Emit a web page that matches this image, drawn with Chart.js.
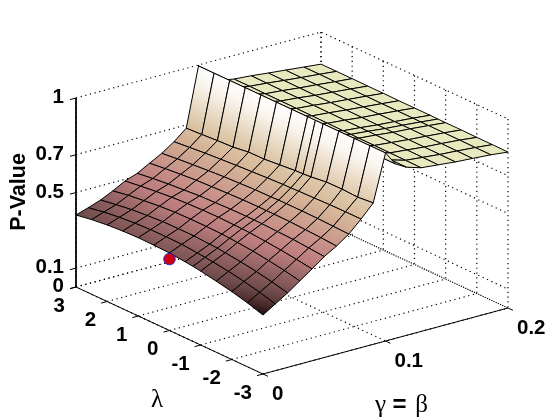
<!DOCTYPE html>
<html>
<head>
<meta charset="utf-8">
<style>
  html, body { margin: 0; padding: 0; background: #fff; }
  canvas { display: block; }
</style>
<script src="https://cdn.jsdelivr.net/npm/chart.js@4/dist/chart.umd.js"></script>
</head>
<body>
<canvas id="chart" width="560" height="420"></canvas>
<script>
const lambdaValues = [3, 2.5, 2, 1.5, 1, 0.5, 0, -0.5, -0.75, -1, -1.5, -2, -2.5, -3];
const gammaValues = [0, 0.01, 0.02, 0.03, 0.04, 0.05, 0.06, 0.07, 0.08, 0.09, 0.1, 0.108, 0.117, 0.129, 0.143, 0.157, 0.171, 0.186, 0.2];

// one row per gamma, one column per lambda
const pValues = [
  [0.381, 0.395, 0.405, 0.411, 0.414, 0.413, 0.41, 0.402, 0.397, 0.391, 0.376, 0.359, 0.338, 0.312],
  [0.402, 0.417, 0.428, 0.435, 0.439, 0.44, 0.438, 0.431, 0.427, 0.422, 0.41, 0.395, 0.376, 0.353],
  [0.425, 0.439, 0.451, 0.458, 0.464, 0.465, 0.465, 0.46, 0.458, 0.453, 0.443, 0.43, 0.414, 0.394],
  [0.456, 0.471, 0.481, 0.49, 0.496, 0.498, 0.498, 0.496, 0.493, 0.49, 0.482, 0.471, 0.457, 0.44],
  [0.491, 0.502, 0.512, 0.52, 0.525, 0.528, 0.529, 0.527, 0.526, 0.524, 0.517, 0.509, 0.498, 0.486],
  [0.514, 0.525, 0.534, 0.541, 0.548, 0.551, 0.554, 0.555, 0.555, 0.554, 0.551, 0.548, 0.541, 0.534],
  [0.55, 0.56, 0.568, 0.575, 0.579, 0.583, 0.586, 0.587, 0.587, 0.587, 0.586, 0.582, 0.578, 0.572],
  [0.585, 0.594, 0.601, 0.608, 0.614, 0.618, 0.622, 0.623, 0.625, 0.625, 0.625, 0.624, 0.621, 0.618],
  [0.629, 0.637, 0.645, 0.651, 0.657, 0.662, 0.667, 0.671, 0.672, 0.674, 0.676, 0.679, 0.68, 0.68],
  [0.683, 0.688, 0.694, 0.698, 0.71, 0.711, 0.719, 0.727, 0.729, 0.732, 0.743, 0.744, 0.74, 0.748],
  [0.995, 0.995, 0.995, 0.995, 0.995, 0.995, 0.995, 0.995, 0.995, 0.995, 0.995, 0.995, 0.995, 0.995],
  [0.93, 0.93, 0.93, 0.93, 0.93, 0.93, 0.93, 0.928, 0.928, 0.927, 0.926, 0.925, 0.924, 0.923],
  [0.89, 0.89, 0.89, 0.89, 0.89, 0.89, 0.89, 0.89, 0.89, 0.89, 0.89, 0.89, 0.89, 0.89],
  [0.875, 0.875, 0.874, 0.874, 0.873, 0.872, 0.871, 0.87, 0.87, 0.869, 0.869, 0.868, 0.867, 0.866],
  [0.868, 0.867, 0.866, 0.866, 0.865, 0.864, 0.863, 0.862, 0.862, 0.861, 0.86, 0.859, 0.858, 0.857],
  [0.858, 0.857, 0.856, 0.855, 0.855, 0.854, 0.853, 0.852, 0.852, 0.851, 0.851, 0.85, 0.849, 0.848],
  [0.849, 0.848, 0.848, 0.847, 0.847, 0.846, 0.846, 0.845, 0.845, 0.845, 0.844, 0.844, 0.843, 0.842],
  [0.839, 0.839, 0.838, 0.838, 0.838, 0.837, 0.837, 0.837, 0.836, 0.836, 0.836, 0.836, 0.835, 0.835],
  [0.83, 0.83, 0.83, 0.829, 0.829, 0.828, 0.828, 0.828, 0.827, 0.827, 0.827, 0.826, 0.826, 0.825],
];

const lambdaTicks = [3, 2, 1, 0, -1, -2, -3];
const gammaTicks = [0, 0.1, 0.2];
const pTicks = [0, 0.1, 0.5, 0.7, 1];
const markedPoint = { lambda: 0, gamma: 0, p: 0.378 };

// colour of the surface against p-value, the plateau behind the ridge is flat yellow
const plateauColor = "rgb(233,233,192)";
const colorStops = [
  [0.31, 30, 8, 8],
  [0.35, 80, 48, 48],
  [0.38, 108, 72, 72],
  [0.45, 152, 102, 102],
  [0.5, 186, 124, 124],
  [0.55, 198, 140, 134],
  [0.6, 204, 160, 142],
  [0.68, 216, 188, 156],
  [0.75, 224, 204, 176],
  [0.85, 240, 228, 212],
  [0.92, 250, 246, 240],
  [1, 255, 255, 255],
];

// orthographic view of the box
function project(lambda, gamma, p) {
  const a = (3 - lambda) / 6;
  const b = gamma / 0.2;
  return { x: 76 + a * 187 + b * 245, y: 287 + a * 87 - b * 66 - p * 189 };
}

function colorAt(p) {
  if (p <= colorStops[0][0]) {
    return `rgb(${colorStops[0].slice(1).join(",")})`;
  }
  for (let i = 1; i < colorStops.length; i++) {
    const [p1, r1, g1, b1] = colorStops[i];
    if (p <= p1) {
      const [p0, r0, g0, b0] = colorStops[i - 1];
      const t = (p - p0) / (p1 - p0);
      return `rgb(${Math.round(r0 + (r1 - r0) * t)},${Math.round(g0 + (g1 - g0) * t)},${Math.round(b0 + (b1 - b0) * t)})`;
    }
  }
  return "rgb(255,255,255)";
}

// gradient along the steepest p direction of one mesh cell
function cellGradient(context, cell) {
  const { ctx, scales } = context.chart;
  const pts = cell.map((c) => ({
    x: scales.x.getPixelForValue(c.x),
    y: scales.y.getPixelForValue(c.y),
    p: c.p,
  }));
  const ps = pts.map((q) => q.p);
  const low = Math.min(...ps);
  const high = Math.max(...ps);
  const mean = ps.reduce((sum, q) => sum + q, 0) / 4;
  const ux = (pts[1].x - pts[0].x + pts[2].x - pts[3].x) / 2;
  const uy = (pts[1].y - pts[0].y + pts[2].y - pts[3].y) / 2;
  const up = (pts[1].p - pts[0].p + pts[2].p - pts[3].p) / 2;
  const vx = (pts[3].x - pts[0].x + pts[2].x - pts[1].x) / 2;
  const vy = (pts[3].y - pts[0].y + pts[2].y - pts[1].y) / 2;
  const vp = (pts[3].p - pts[0].p + pts[2].p - pts[1].p) / 2;
  const det = ux * vy - uy * vx;
  const gx = (up * vy - vp * uy) / det;
  const gy = (ux * vp - vx * up) / det;
  const len2 = gx * gx + gy * gy;
  if (!Number.isFinite(len2) || len2 < 1e-10 || high - low < 1e-4) {
    return colorAt(mean);
  }
  const cx = pts.reduce((sum, q) => sum + q.x, 0) / 4;
  const cy = pts.reduce((sum, q) => sum + q.y, 0) / 4;
  const gradient = ctx.createLinearGradient(
    cx + (gx / len2) * (low - mean),
    cy + (gy / len2) * (low - mean),
    cx + (gx / len2) * (high - mean),
    cy + (gy / len2) * (high - mean),
  );
  for (let i = 0; i <= 6; i++) {
    gradient.addColorStop(i / 6, colorAt(low + ((high - low) * i) / 6));
  }
  return gradient;
}

function lineDataset(points, borderDash) {
  return {
    data: points,
    showLine: true,
    fill: false,
    borderColor: "#000",
    borderWidth: borderDash ? 1.2 : 1,
    borderDash: borderDash || [],
    pointRadius: 0,
    tension: 0,
    clip: false,
  };
}

const dots = [1.2, 3.6];
const boxLines = [];
pTicks.forEach((p) => {
  boxLines.push(lineDataset([project(3, 0, p), project(3, 0.2, p), project(-3, 0.2, p)], dots));
  boxLines.push(lineDataset([project(3, 0, p), project(3, -0.0049, p)]));
});
lambdaTicks.forEach((l) => {
  boxLines.push(lineDataset([project(l, 0, 0), project(l, 0.2, 0), project(l, 0.2, 1)], dots));
  boxLines.push(lineDataset([project(l, 0, 0), project(l, -0.0049, 0)]));
});
gammaTicks.forEach((g) => {
  boxLines.push(lineDataset([project(3, g, 1), project(3, g, 0), project(-3, g, 0)], dots));
  boxLines.push(lineDataset([project(-3, g, 0), project(-3.16, g, 0)]));
});
boxLines.push(lineDataset([project(3, 0, 1), project(3, 0, 0), project(-3, 0, 0), project(-3, 0.2, 0)]));

// nearest cells first: Chart.js paints the first dataset last
const surfaceCells = [];
for (let g = 0; g < gammaValues.length - 1; g++) {
  for (let l = lambdaValues.length - 2; l >= 0; l--) {
    const cell = [[l, g], [l + 1, g], [l + 1, g + 1], [l, g + 1]].map(([li, gi]) => ({
      ...project(lambdaValues[li], gammaValues[gi], pValues[gi][li]),
      p: pValues[gi][li],
    }));
    surfaceCells.push({
      data: [...cell, cell[0]].map((c) => ({ x: c.x, y: c.y })),
      showLine: true,
      fill: "shape",
      backgroundColor: gammaValues[g] >= 0.1 ? plateauColor : (context) => cellGradient(context, cell),
      borderColor: "#000",
      borderWidth: 1,
      pointRadius: 0,
      tension: 0,
      clip: false,
    });
  }
}

const markerSet = {
  data: [project(markedPoint.lambda, markedPoint.gamma, markedPoint.p)],
  pointRadius: 5.8,
  pointBackgroundColor: "#cf0010",
  pointBorderColor: "#1414e0",
  pointBorderWidth: 0.8,
  clip: false,
};

const axisText = {
  id: "axisText",
  afterDatasetsDraw(chart) {
    const { ctx, scales } = chart;
    const put = (text, pos, dx, dy, align, font) => {
      ctx.font = font;
      ctx.textAlign = align;
      ctx.fillText(text, scales.x.getPixelForValue(pos.x) + dx, scales.y.getPixelForValue(pos.y) + dy);
    };
    const tickFont = 'bold 20.5px "Liberation Sans"';
    ctx.save();
    ctx.fillStyle = "#000";
    ctx.textBaseline = "alphabetic";
    pTicks.forEach((p) => put(String(p), project(3, 0, p), -12, 5, "right", tickFont));
    lambdaTicks.forEach((l) => put(String(l), project(l, 0, 0), -11, 24.5, "right", tickFont));
    gammaTicks.forEach((g) => put(String(g), project(-3, g, 0), 9, 25.5, "left", tickFont));

    const serif = '25px "Liberation Serif"';
    put("λ", project(0.4, 0, 0), 0, 82, "center", serif);
    put("γ", project(-3, 0.1, 0), -5, 71, "center", serif);
    put("=", project(-3, 0.1, 0), 14, 71, "center", 'bold 24px "Liberation Sans"');
    put("β", project(-3, 0.1, 0), 36, 71, "center", serif);

    ctx.translate(scales.x.getPixelForValue(24.5), scales.y.getPixelForValue(192));
    ctx.rotate(-Math.PI / 2);
    ctx.font = 'bold 21.5px "Liberation Sans"';
    ctx.textAlign = "center";
    ctx.fillText("P-Value", 0, 0);
    ctx.restore();
  },
};

new Chart(document.getElementById("chart"), {
  type: "scatter",
  data: { datasets: [markerSet, ...surfaceCells, ...boxLines] },
  options: {
    animation: false,
    responsive: false,
    layout: { padding: 0, autoPadding: false },
    events: [],
    scales: {
      x: { type: "linear", min: 0, max: 560, display: false },
      y: { type: "linear", min: 0, max: 420, reverse: true, display: false },
    },
    plugins: {
      legend: { display: false },
      tooltip: { enabled: false },
    },
  },
  plugins: [axisText],
});
</script>
</body>
</html>
